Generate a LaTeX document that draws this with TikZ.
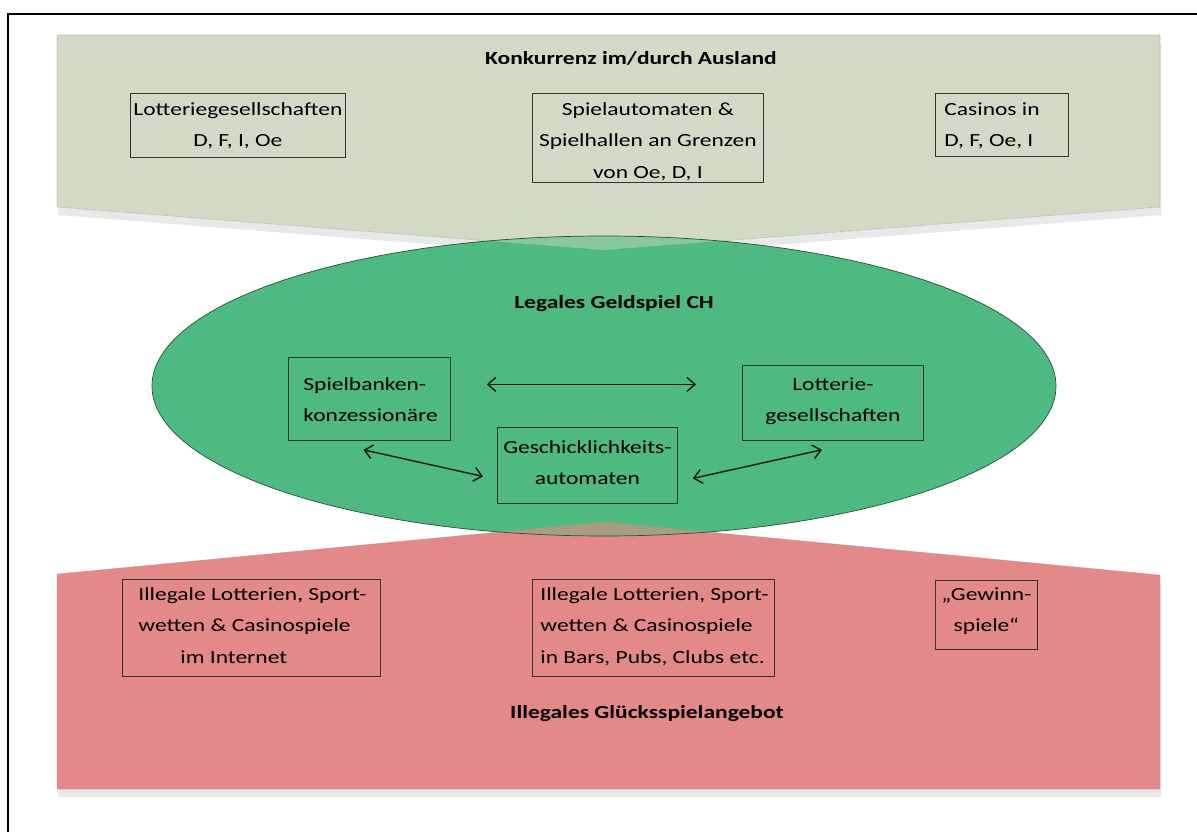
\documentclass[tikz,border=0pt]{standalone}
\usepackage{fontspec}
\setmainfont{Carlito}[FakeStretch=1.27]
\usetikzlibrary{arrows.meta,calc,shadows}
\definecolor{greyfill}{RGB}{210,218,198}
\definecolor{redfill}{RGB}{228,137,137}
\definecolor{greenfill}{RGB}{78,185,128}
\definecolor{ellline}{RGB}{40,80,55}
% #1 width, #2 height, #3 alignment, #4 first baseline offset, #5 text
\newcommand{\bxt}[5]{\parbox[t][#2][t]{#1}{\fontsize{18.5}{31.5}\selectfont#3\rule{0pt}{#4}#5}}
% left aligned with left padding #1
\newcommand{\lpad}[1]{\raggedright\leftskip=#1\relax}
\tikzset{
  frameline/.style={line width=1.3pt, black},
  area/.style={draw=gray!75, densely dotted, line width=0.6pt,
    drop shadow={shadow xshift=1pt, shadow yshift=-8pt, opacity=0.09, fill=black}},
  itembox/.style={draw=black!80, line width=0.8pt, inner sep=0pt, anchor=north west},
  titletext/.style={font=\fontsize{18.5}{22}\selectfont\bfseries, anchor=base, inner sep=0pt},
  dbl/.style={{Straight Barb[length=8pt,width=14pt]}-{Straight Barb[length=8pt,width=14pt]}, line width=1.4pt, black!90}
}
\begin{document}
\begin{tikzpicture}[x=1pt,y=-1pt]
\useasboundingbox (0,0) rectangle (1197,832);
\fill[white] (0,0) rectangle (1197,832);
\draw[frameline] (8,832) -- (8,14) -- (1197,14);

% areas
\path[area, fill=greyfill] (57,35) -- (1160,35) -- (1160,207) -- (604,250) -- (57,207) -- cycle;
\path[area, fill=redfill] (57,574) -- (604,522) -- (1160,575) -- (1160,789) -- (57,789) -- cycle;

% ellipse
\fill[greenfill] (604,386) ellipse [x radius=452, y radius=150];
\begin{scope}
  \clip (604,386) ellipse [x radius=452, y radius=150];
  \fill[greyfill, opacity=0.45] (57,35) -- (1160,35) -- (1160,207) -- (604,250) -- (57,207) -- cycle;
  \fill[redfill, opacity=0.6] (57,574) -- (604,522) -- (1160,575) -- (1160,789) -- (57,789) -- cycle;
\end{scope}
\draw[ellline, line width=0.7pt] (604,386) ellipse [x radius=452, y radius=150];

% titles
\node[titletext] (t1) at (631,65) {Konkurrenz im/durch Ausland};
\node[titletext] (t2) at (614,308) {Legales Geldspiel CH};
\node[titletext] (t3) at (647,718) {Illegales Glücksspielangebot};

% top boxes
\node[itembox] (lg) at (130,93) {\bxt{215pt}{64pt}{\centering}{22pt}{Lotteriegesellschaften\\D, F, I, Oe}};
\node[itembox] (sa) at (532,93) {\bxt{231pt}{89pt}{\centering}{22pt}{Spielautomaten \&\\Spielhallen an Grenzen\\von Oe, D, I}};
\node[itembox] (ca) at (935,93) {\bxt{133pt}{63pt}{\lpad{9pt}}{22pt}{Casinos in\\D, F, Oe, I}};

% ellipse boxes
\node[itembox] (sb) at (288,357) {\bxt{162pt}{83pt}{\lpad{15pt}}{33pt}{Spielbanken-\\konzessionäre}};
\node[itembox] (lo) at (742,365) {\bxt{181pt}{75pt}{\centering}{25pt}{Lotterie-\\gesellschaften}};
\node[itembox] (gk) at (497,427) {\bxt{180pt}{76pt}{\centering}{26pt}{Geschicklichkeits-\\automaten}};

% bottom boxes
\node[itembox] (il1) at (122,579) {\bxt{258pt}{97pt}{\lpad{16pt}}{21pt}{Illegale Lotterien, Sport-\\wetten \& Casinospiele\\\hspace*{42pt}im Internet}};
\node[itembox] (il2) at (532,579) {\bxt{242pt}{97pt}{\lpad{8pt}}{21pt}{Illegale Lotterien, Sport-\\wetten \& Casinospiele\\in Bars, Pubs, Clubs etc.}};
\node[itembox] (gw) at (935,580) {\bxt{102pt}{69pt}{\centering}{20pt}{„Gewinn-\\spiele“}};

% arrows
\draw[dbl] ($(sb.east)+(36,-14.5)$) -- ($(lo.west)+(-46,-18.5)$);
\draw[dbl] ($(sb.south)+(-6,9)$) -- ($(gk.west)+(-14,11)$);
\draw[dbl] ($(gk.east)+(15,13)$) -- ($(lo.south)+(-11,9)$);
\end{tikzpicture}
\end{document}
